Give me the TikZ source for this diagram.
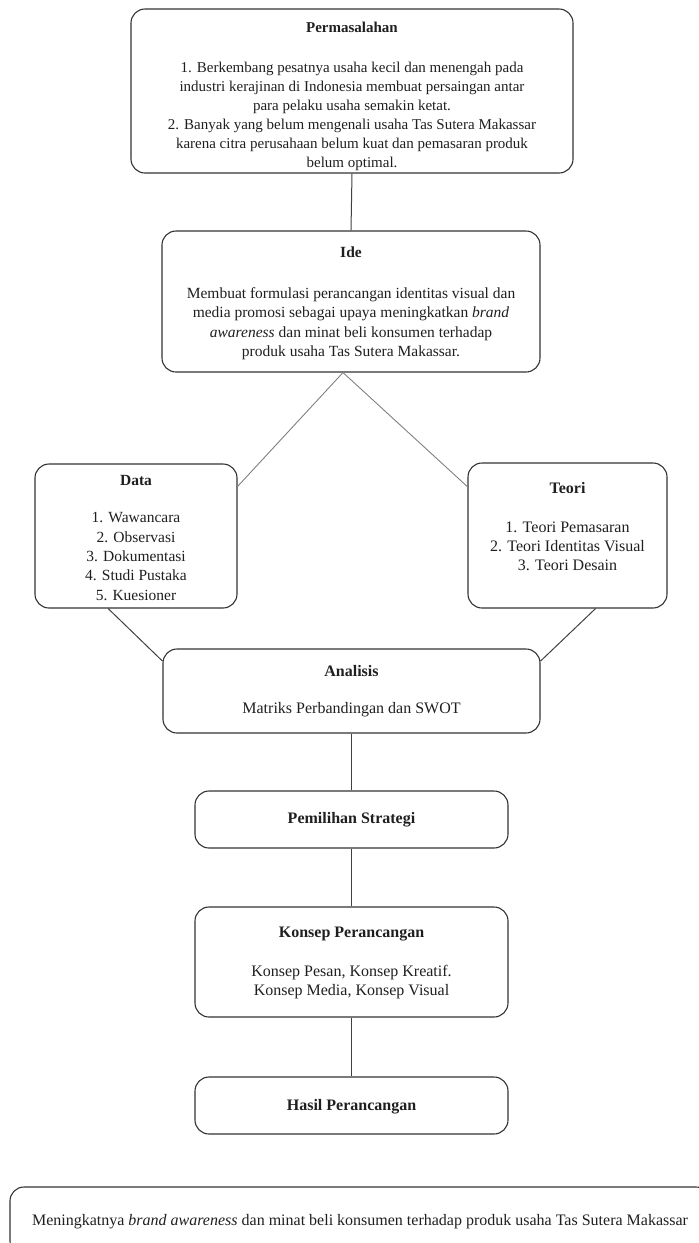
\documentclass[tikz,border=0pt]{standalone}
\usepackage{fontspec}
\setmainfont{Liberation Serif}
\usetikzlibrary{calc}
\begin{document}
\begin{tikzpicture}[x=1pt,y=-1pt,
  box/.style={draw=black!80, line width=1.1pt, rounded corners=14pt, align=center,
    font=\fontsize{16}{19}\selectfont, text=black!88, inner sep=0pt},
  link/.style={draw=black!75, line width=1pt},
  lightlink/.style={draw=black!50, line width=0.9pt}]
\useasboundingbox (0,0) rectangle (699,1243);
\clip (0,0) rectangle (699,1243);

\node[box, font=\fontsize{15}{18.9}\selectfont, minimum width=442pt, minimum height=164pt] (perm) at (352,91)
  {\rule{0pt}{21pt}\textbf{Permasalahan}\\[21pt]
   1. Berkembang pesatnya usaha kecil dan menengah pada\\
   industri kerajinan di Indonesia membuat persaingan antar\\
   para pelaku usaha semakin ketat.\\
   2. Banyak yang belum mengenali usaha Tas Sutera Makassar\\
   karena citra perusahaan belum kuat dan pemasaran produk\\
   belum optimal.};

\node[box, font=\fontsize{15.5}{19.2}\selectfont, minimum width=378pt, minimum height=141pt] (ide) at (351,301.5)
  {\rule{0pt}{14pt}\textbf{Ide}\\[22pt]
   Membuat formulasi perancangan identitas visual dan\\
   media promosi sebagai upaya meningkatkan \textit{brand}\\
   \textit{awareness} dan minat beli konsumen terhadap\\
   produk usaha Tas Sutera Makassar.};

\node[box, font=\fontsize{15.5}{19.3}\selectfont, minimum width=202pt, minimum height=144pt] (data) at (136,536)
  {\rule{0pt}{14pt}\textbf{Data}\\[18pt]
   1. Wawancara\\
   2. Observasi\\
   3. Dokumentasi\\
   4. Studi Pustaka\\
   5. Kuesioner};

\node[box, minimum width=199pt, minimum height=145pt] (teori) at (567.5,535.5)
  {\textbf{Teori}\\[20pt]
   1. Teori Pemasaran\\
   2. Teori Identitas Visual\\
   3. Teori Desain\\
   \mbox{}};

\node[box, minimum width=377pt, minimum height=84pt] (anal) at (351.5,691)
  {\textbf{Analisis}\\[18pt]
   Matriks Perbandingan dan SWOT};

\node[box, minimum width=313pt, minimum height=57pt] (pemil) at (351.5,819.5)
  {\textbf{Pemilihan Strategi}};

\node[box, minimum width=313pt, minimum height=110pt] (konsep) at (351.5,962)
  {\rule{0pt}{13pt}\textbf{Konsep Perancangan}\\[20pt]
   Konsep Pesan, Konsep Kreatif.\\
   Konsep Media, Konsep Visual};

\node[box, minimum width=313pt, minimum height=57pt] (hasil) at (351.5,1105.5)
  {\rule{0pt}{13pt}\textbf{Hasil Perancangan}};

\node[box, minimum width=700pt, minimum height=68pt] (final) at (360,1221)
  {\rule{0pt}{13pt}Meningkatnya \textit{brand awareness} dan minat beli konsumen terhadap produk usaha Tas Sutera Makassar};

\coordinate (apex) at ($(ide.south)+(-8,0)$);
\draw[link] (perm.south) -- (ide.north);
\draw[lightlink] (apex) -- (data.26);
\draw[lightlink] (apex) -- (teori.154);
\draw[link] (data.-111) -- (anal.171);
\draw[link] (teori.-69) -- (anal.9);
\draw[link] (anal.south) -- (pemil.north);
\draw[link] (pemil.south) -- (konsep.north);
\draw[link] (konsep.south) -- (hasil.north);
\end{tikzpicture}
\end{document}
